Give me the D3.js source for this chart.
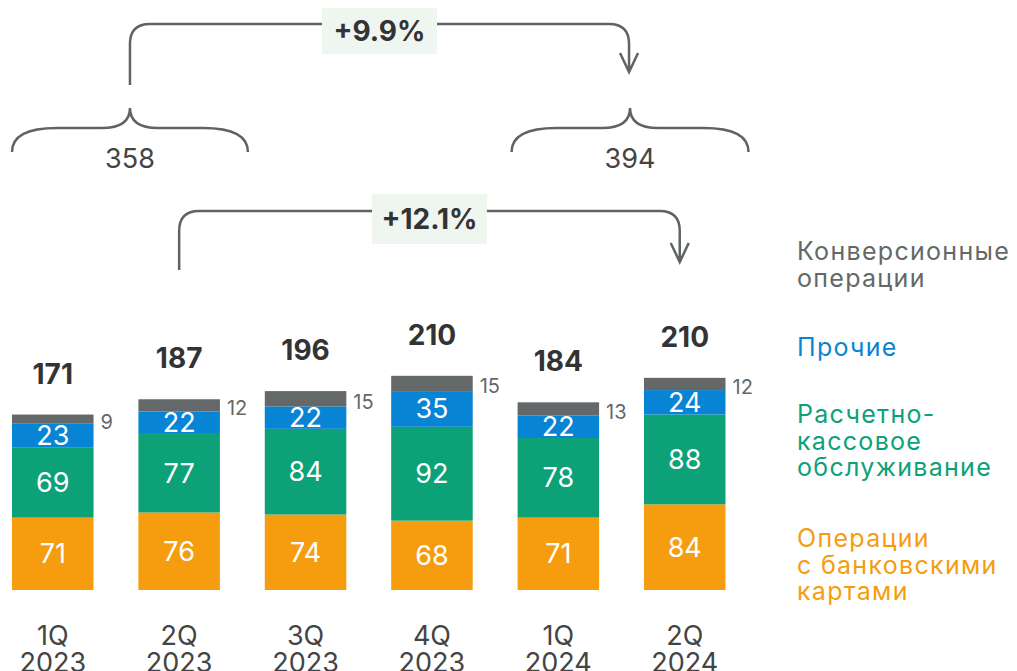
<!DOCTYPE html>
<html>
<head>
<meta charset="utf-8">
<script src="https://cdn.jsdelivr.net/npm/d3@7"></script>
<style>
  body { margin: 0; background: #fff; }
  text { font-family: Inter, "Open Sans", sans-serif; }
</style>
</head>
<body>
<div id="chart"></div>
<script>
// data
var quarters = ["1Q", "2Q", "3Q", "4Q", "1Q", "2Q"];
var years = ["2023", "2023", "2023", "2023", "2024", "2024"];
var cards = [71, 76, 74, 68, 71, 84];
var settlement = [69, 77, 84, 92, 78, 88];
var other = [23, 22, 22, 35, 22, 24];
var conversion = [9, 12, 15, 15, 13, 12];
var totals = [171, 187, 196, 210, 184, 210];
var halfYears = [358, 394];
var growth = ["+9.9%", "+12.1%"];
var legendLabels = [
  ["Конверсионные", "операции"],
  ["Прочие"],
  ["Расчетно-", "кассовое", "обслуживание"],
  ["Операции", "с банковскими", "картами"]
];

var colors = {
  cards: "#f59d0e",
  settlement: "#0ca177",
  other: "#0884d4",
  conversion: "#646868"
};

var svgWidth = 1017;
var svgHeight = 671;

var svg = d3.select("#chart")
  .append("svg")
  .attr("width", svgWidth)
  .attr("height", svgHeight);

// scales
var xScale = d3.scaleBand()
  .domain(d3.range(quarters.length))
  .range([12, 725.5])
  .paddingInner(0.355)
  .paddingOuter(0);

var yScale = d3.scaleLinear()
  .domain([0, 210])
  .range([590, 375.8]);

var bw = xScale.bandwidth();

// build stacked rows
var rows = quarters.map(function(q, i) {
  return { i: i, cards: cards[i], settlement: settlement[i], other: other[i], conversion: conversion[i] };
});
var keys = ["cards", "settlement", "other", "conversion"];
var stacked = d3.stack().keys(keys)(rows);

var layers = svg.append("g").selectAll("g")
  .data(stacked)
  .enter()
  .append("g")
  .attr("fill", d => colors[d.key]);

layers.selectAll("rect")
  .data(d => d)
  .enter()
  .append("rect")
  .attr("x", d => xScale(d.data.i))
  .attr("y", d => yScale(d[1]))
  .attr("width", bw)
  .attr("height", d => yScale(d[0]) - yScale(d[1]));

// white labels inside bars
stacked.slice(0, 3).forEach(function(layer) {
  svg.append("g").selectAll("text")
    .data(layer)
    .enter()
    .append("text")
    .attr("x", d => xScale(d.data.i) + bw / 2)
    .attr("y", d => (yScale(d[0]) + yScale(d[1])) / 2)
    .attr("text-anchor", "middle")
    .attr("dominant-baseline", "central")
    .style("font-size", "27px")
    .style("fill", "#fff")
    .text(d => d.data[layer.key]);
});

// conversion labels to the right
var convLayer = stacked[3];
svg.append("g").selectAll("text")
  .data(convLayer)
  .enter()
  .append("text")
  .attr("x", d => xScale(d.data.i) + bw + 7)
  .attr("y", d => (yScale(d[0]) + yScale(d[1])) / 2 + 3)
  .attr("dominant-baseline", "central")
  .style("font-size", "20px")
  .style("fill", "#646868")
  .text(d => d.data.conversion);

// totals
svg.append("g").selectAll("text")
  .data(convLayer)
  .enter()
  .append("text")
  .attr("x", d => xScale(d.data.i) + bw / 2)
  .attr("y", d => yScale(d[1]) - 31)
  .attr("text-anchor", "middle")
  .style("font-size", "28px")
  .style("font-weight", "bold")
  .style("fill", "#333")
  .text((d, i) => totals[i]);

// category labels
var cats = svg.append("g").selectAll("text")
  .data(quarters)
  .enter()
  .append("text")
  .attr("x", (d, i) => xScale(i) + bw / 2)
  .attr("y", 645)
  .attr("text-anchor", "middle")
  .style("font-size", "27px")
  .style("fill", "#444");

cats.append("tspan").text(d => d);
cats.append("tspan")
  .attr("x", (d, i) => xScale(i) + bw / 2)
  .attr("dy", 27)
  .text((d, i) => years[i]);

// legend
var legendColors = [colors.conversion, colors.other, colors.settlement, colors.cards];
var legendY = [260, 356, 423, 547];
legendLabels.forEach(function(lines, k) {
  var t = svg.append("text")
    .attr("x", 797)
    .attr("y", legendY[k])
    .style("font-size", "25px")
    .style("letter-spacing", "1.3px")
    .style("fill", legendColors[k]);
  lines.forEach(function(line, j) {
    t.append("tspan")
      .attr("x", 797)
      .attr("dy", j === 0 ? 0 : 26.5)
      .text(line);
  });
});

// braces for half-year sums
var lineColor = "#5f6363";
function brace(xL, xR) {
  var xc = (xL + xR) / 2;
  return "M" + xL + ",152 C" + xL + ",136 " + (xL + 14) + ",128 " + (xL + 45) + ",128" +
    " L" + (xc - 28) + ",128 C" + (xc - 8) + ",128 " + xc + ",120 " + xc + ",108" +
    " C" + xc + ",120 " + (xc + 8) + ",128 " + (xc + 28) + ",128" +
    " L" + (xR - 45) + ",128 C" + (xR - 14) + ",128 " + xR + ",136 " + xR + ",152";
}

var braces = [
  [xScale(0), xScale(1) + bw + 28],
  [xScale(4) - 6, xScale(5) + bw + 23]
];

braces.forEach(function(b, k) {
  svg.append("path")
    .attr("d", brace(b[0], b[1]))
    .attr("fill", "none")
    .attr("stroke", lineColor)
    .attr("stroke-width", 2.5);
  svg.append("text")
    .attr("x", (b[0] + b[1]) / 2)
    .attr("y", 168)
    .attr("text-anchor", "middle")
    .style("font-size", "27px")
    .style("fill", "#444")
    .text(halfYears[k]);
});

// growth arrows
function arrow(x1, x2, yTop, yBottom, yEnd, r) {
  return "M" + x1 + "," + yBottom + " L" + x1 + "," + (yTop + r) +
    " Q" + x1 + "," + yTop + " " + (x1 + r) + "," + yTop +
    " L" + (x2 - r) + "," + yTop +
    " Q" + x2 + "," + yTop + " " + x2 + "," + (yTop + r) +
    " L" + x2 + "," + yEnd +
    " M" + (x2 - 9) + "," + (yEnd - 19) + " L" + x2 + "," + yEnd + " L" + (x2 + 9) + "," + (yEnd - 19);
}

var b1c = (braces[0][0] + braces[0][1]) / 2;
var b2c = (braces[1][0] + braces[1][1]) / 2;
var arrows = [
  { x1: b1c, x2: b2c - 1, yTop: 24, yBottom: 85, yEnd: 72, box: [322, 8, 115, 46] },
  { x1: xScale(1) + bw / 2, x2: xScale(5) + bw / 2 - 5, yTop: 211, yBottom: 270, yEnd: 262, box: [372, 194, 115, 50] }
];

arrows.forEach(function(a, k) {
  svg.append("path")
    .attr("d", arrow(a.x1, a.x2, a.yTop, a.yBottom, a.yEnd, 20))
    .attr("fill", "none")
    .attr("stroke", lineColor)
    .attr("stroke-width", 2.5);
  svg.append("rect")
    .attr("x", a.box[0])
    .attr("y", a.box[1])
    .attr("width", a.box[2])
    .attr("height", a.box[3])
    .attr("fill", "#eff5ef");
  svg.append("text")
    .attr("x", a.box[0] + a.box[2] / 2)
    .attr("y", a.box[1] + a.box[3] / 2)
    .attr("text-anchor", "middle")
    .attr("dominant-baseline", "central")
    .style("font-size", "28px")
    .style("font-weight", "bold")
    .style("fill", "#333")
    .text(growth[k]);
});
</script>
</body>
</html>
